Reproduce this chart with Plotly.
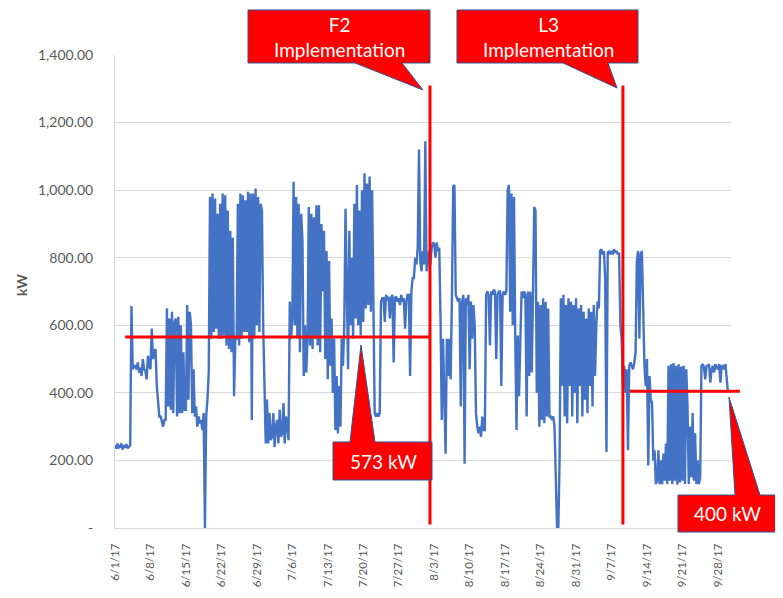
import pandas as pd
import plotly.graph_objects as go

# ---------------- data (kW, 4 readings per day: 00h, 06h, 12h, 18h) ----------------
kw_jun = [
    245, 235, 250, 238,  240, 250, 232, 245,  238, 248, 236, 242,  245, 657, 470, 480,
    480, 470, 490, 460,  475, 450, 500, 470,  465, 440, 510, 480,  470, 590, 500, 520,
    530, 420, 360, 330,  330, 310, 300, 320,  320, 650, 360, 620,  350, 640, 340, 610,
    620, 330, 625, 340,  600, 340, 520, 350,  350, 660, 380, 640,  600, 340, 470, 330,
    360, 300, 330, 310,  320, 290, 340, 0,    330, 380, 460, 980,  560, 990, 580, 975,
    590, 930, 560, 960,  560, 990, 570, 985,  540, 940, 530, 880,  520, 860, 390, 560,
    560, 960, 540, 990,  560, 985, 580, 970,  580, 995, 550, 990,  320, 990, 560, 1005,
    600, 980, 580, 960,  940, 600, 420, 250,
]
kw_jul = [
    380, 250, 340, 260,  270, 340, 240, 300,  320, 250, 350, 270,  280, 370, 250, 330,
    300, 260, 670, 560,  620, 1025, 600, 980,  560, 960, 520, 930,  850, 450, 600, 460,
    560, 950, 540, 930,  530, 920, 560, 955,  540, 955, 520, 900,  700, 880, 500, 820,
    440, 790, 480, 620,  400, 560, 290, 450,  280, 420, 300, 560,  480, 600, 945, 620,
    470, 880, 600, 800,  560, 960, 620, 1015,  600, 940, 570, 1000,  610, 1050, 650, 1020,
    660, 1040, 640, 1000,  620, 340, 330, 340,  330, 340, 670, 680,  680, 610, 690, 675,
    685, 620, 680, 690,  490, 680, 685, 670,  680, 660, 690, 670,  680, 590, 670, 690,
    690, 450, 700, 740,  740, 800, 780, 830,  1120, 790, 760, 820,
]
kw_aug = [
    780, 1145, 760, 800,  820, 780, 830, 845,  840, 800, 845, 820,  830, 620, 320, 560,
    400, 220, 560, 450,  560, 440, 680, 1010,  1015, 690, 680, 670,  680, 360, 670, 690,
    190, 680, 660, 690,  470, 670, 560, 660,  600, 340, 300, 280,  300, 270, 330, 290,
    290, 690, 700, 690,  540, 700, 690, 705,  700, 500, 690, 700,  700, 420, 690, 700,
    690, 700, 1000, 1015,  640, 990, 600, 980,  560, 290, 570, 390,  550, 700, 680, 700,
    690, 330, 700, 450,  700, 460, 690, 950,  940, 400, 670, 300,  660, 320, 680, 310,
    670, 330, 650, 330,  330, 320, 330, 300,  150, 0, 0, 200,  680, 420, 690, 330,
    660, 310, 680, 420,  670, 330, 660, 400,  680, 310, 650, 420,
]
kw_sep = [
    660, 330, 640, 380,  620, 340, 650, 420,  640, 360, 660, 450,  600, 670, 650, 820,
    825, 810, 820, 740,  225, 815, 820, 810,  820, 810, 825, 815,  820, 810, 815, 600,
    560, 420, 480, 400,  470, 230, 480, 490,  480, 470, 490, 520,  790, 820, 560, 810,
    820, 600, 480, 420,  500, 185, 450, 380,  370, 200, 230, 130,  140, 230, 130, 200,
    130, 220, 140, 250,  130, 480, 140, 485,  130, 488, 140, 480,  128, 485, 135, 478,
    140, 480, 130, 470,  360, 130, 300, 150,  340, 140, 280, 130,  200, 130, 150, 480,
    485, 475, 440, 480,  480, 485, 430, 470,  480, 460, 485, 475,  470, 485, 430, 480,
    480, 470, 485, 440,  400,
]

series_start = "2017-06-01"
sample_step = "6h"

y_tick_vals = [0, 200, 400, 600, 800, 1000, 1200, 1400]
y_tick_text = ["-", "200.00", "400.00", "600.00", "800.00", "1,000.00", "1,200.00", "1,400.00"]

x_range = ["2017-06-01", "2017-09-30 14:00"]

impl_labels = ["F2<br>Implementation", "L3<br>Implementation"]
impl_dates = ["2017-08-02 04:00", "2017-09-09 06:00"]
impl_line_span = [10, 1310]

avg_labels = ["573 kW", "400 kW"]
avg_levels = [565, 405]
avg_starts = ["2017-06-03", "2017-09-10 15:00"]
avg_ends = ["2017-08-02 04:00", "2017-10-02 08:00"]

# ---------------- figure ----------------
kw = kw_jun + kw_jul + kw_aug + kw_sep
times = pd.date_range(series_start, periods=len(kw), freq=sample_step)

OFF = 8  # page body margin of the html page
W_FIG, H_FIG = 783 - OFF, 598 - OFF
L, T, PW, PH = 115 - OFF, 55 - OFF, 616, 473

fig = go.Figure()
fig.add_trace(go.Scatter(x=times, y=kw, mode="lines",
                         line=dict(color="#4472C4", width=2.4), showlegend=False,
                         hoverinfo="skip"))

r0 = pd.Timestamp(x_range[0]).value
r1 = pd.Timestamp(x_range[1]).value


def date_to_paper(d):
    return (pd.Timestamp(d).value - r0) / (r1 - r0)


def px(xp, yp):
    # screen pixel position (in the 783x598 window) -> paper coordinates
    return (xp - OFF - L) / PW, (T + PH - (yp - OFF)) / PH


shapes = []
RED = "#FF0000"
for d in impl_dates:
    shapes.append(dict(type="line", xref="x", yref="y", x0=d, x1=d,
                       y0=impl_line_span[0], y1=impl_line_span[1],
                       line=dict(color=RED, width=3), layer="above"))
for s, e, v in zip(avg_starts, avg_ends, avg_levels):
    shapes.append(dict(type="line", xref="paper", yref="y",
                       x0=date_to_paper(s), x1=date_to_paper(e), y0=v, y1=v,
                       line=dict(color=RED, width=3), layer="above"))


def callout_bottom(x0, y0, x1, y1, bl, br, tip):
    # pointer leaves the bottom edge
    return [(x0, y0), (x1, y0), (x1, y1), (br, y1), tip, (bl, y1), (x0, y1)]


def callout_top(x0, y0, x1, y1, bl, br, tip):
    # pointer leaves the top edge
    return [(x0, y0), (bl, y0), tip, (br, y0), (x1, y0), (x1, y1), (x0, y1)]


callouts = [
    (callout_bottom(248, 10, 430, 63, 355, 402, (423, 90)), impl_labels[0], (339, 37)),
    (callout_bottom(457, 10, 638, 63, 563, 608, (617, 88)), impl_labels[1], (548, 37)),
    (callout_top(333, 442, 432, 480, 350, 375, (361, 345)), avg_labels[0], (383, 461)),
    (callout_top(678, 495, 776, 532, 735, 760, (729, 397)), avg_labels[1], (727, 513)),
]

annotations = []
for pts, text, (tx, ty) in callouts:
    path = ""
    for i, (a, b) in enumerate(pts):
        xp, yp = px(a, b)
        path += ("M" if i == 0 else "L") + f"{xp:.5f},{yp:.5f} "
    path += "Z"
    shapes.append(dict(type="path", xref="paper", yref="paper", path=path,
                       fillcolor=RED, line=dict(color="#2F5597", width=1), layer="above"))
    ax, ay = px(tx, ty)
    annotations.append(dict(xref="paper", yref="paper", x=ax, y=ay, text=text,
                            showarrow=False, xanchor="center", yanchor="middle",
                            font=dict(family="Lato", size=19, color="white")))

tx, ty = px(21, 285)
annotations.append(dict(xref="paper", yref="paper", x=tx, y=ty, text="<b>kW</b>",
                        textangle=-90, showarrow=False, xanchor="center", yanchor="middle",
                        font=dict(family="Lato", size=14, color="#595959")))

fig.update_layout(
    width=W_FIG, height=H_FIG,
    margin=dict(l=L, r=W_FIG - L - PW, t=T, b=H_FIG - T - PH, pad=0),
    paper_bgcolor="white", plot_bgcolor="white",
    shapes=shapes, annotations=annotations,
    font=dict(family="Lato", color="#595959"),
)
fig.update_xaxes(type="date", range=x_range, tick0=series_start, dtick=7 * 86400000,
                 tickformat="%-m/%-d/%y", tickangle=-90, showgrid=False,
                 showline=True, linecolor="#D9D9D9", linewidth=1, ticks="",
                 ticklabelstandoff=10,
                 tickfont=dict(family="Lato", size=11.5, color="#595959"))
fig.update_yaxes(range=[0, 1400], tickvals=y_tick_vals, ticktext=y_tick_text,
                 showgrid=True, gridcolor="#D9D9D9", gridwidth=1,
                 showline=True, linecolor="#D9D9D9", linewidth=1, ticks="",
                 zeroline=False, ticklabelstandoff=18,
                 tickfont=dict(family="Lato", size=14, color="#595959"))

fig.write_html("out.html")
